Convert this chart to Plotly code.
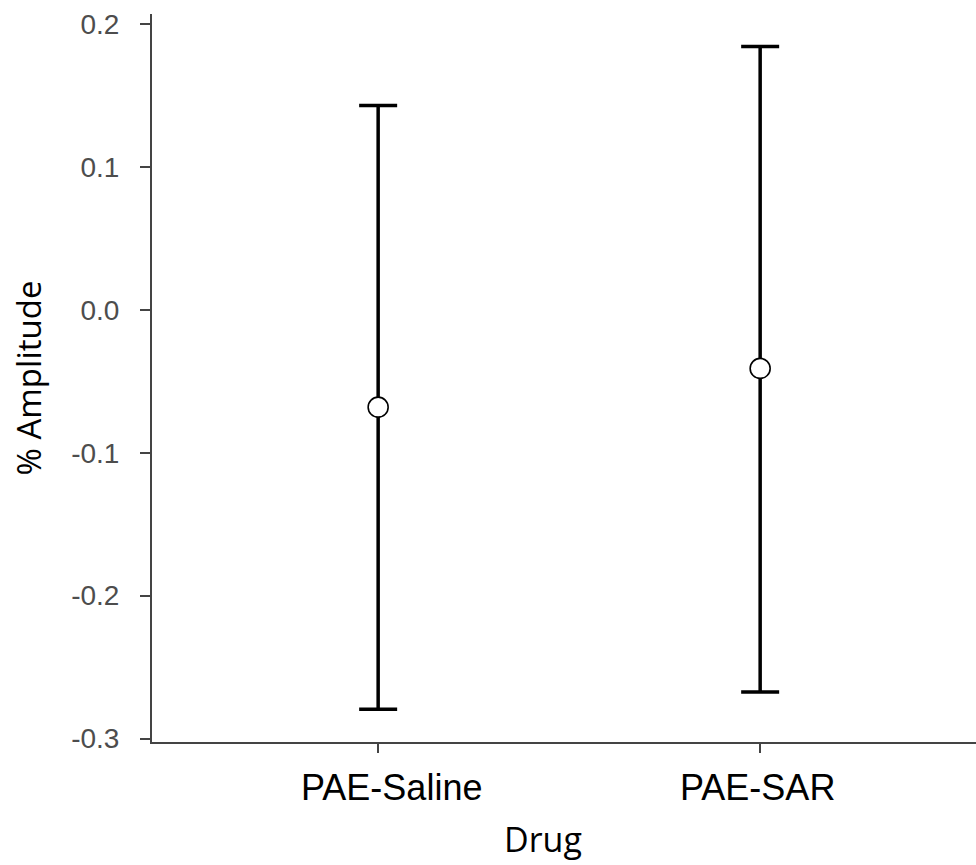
import plotly.graph_objects as go

drugs = ["PAE-Saline", "PAE-SAR"]
mean_amp = [-0.0681, -0.0410]
upper_amp = [0.1429, 0.1843]
lower_amp = [-0.2795, -0.2674]
y_ticks = [0.2, 0.1, 0.0, -0.1, -0.2, -0.3]
y_tick_labels = ["0.2", "0.1", "0.0", "-0.1", "-0.2", "-0.3"]
label_shift = [13, -3]

err_plus = [u - m for u, m in zip(upper_amp, mean_amp)]
err_minus = [m - l for m, l in zip(mean_amp, lower_amp)]

fig = go.Figure()
fig.add_trace(go.Scatter(
    x=drugs, y=mean_amp, mode="markers",
    marker=dict(size=20, color="white", line=dict(color="black", width=1.6)),
    error_y=dict(type="data", array=err_plus, arrayminus=err_minus,
                 symmetric=False, thickness=3.5, width=19, color="black"),
    showlegend=False, cliponaxis=False,
))

for d, s in zip(drugs, label_shift):
    fig.add_annotation(
        x=d, y=0, xref="x", yref="paper", text=d, showarrow=False,
        xanchor="center", yanchor="middle", xshift=s, yshift=-45,
        font=dict(family="Liberation Sans, Arial", size=36, color="black"),
    )

fig.add_annotation(
    x=0.475, y=0, xref="paper", yref="paper", text="Drug", showarrow=False,
    xanchor="center", yanchor="middle", yshift=-97,
    font=dict(family="Open Sans", size=34, color="black"),
)

fig.update_layout(
    width=976, height=865,
    margin=dict(l=152, r=0, t=14, b=123),
    paper_bgcolor="white", plot_bgcolor="white",
    xaxis=dict(
        range=[-0.592, 1.565], showline=True, linecolor="#444444", linewidth=2,
        ticks="outside", ticklen=9, tickwidth=2, tickcolor="#444444",
        showgrid=False, zeroline=False, showticklabels=False,
    ),
    yaxis=dict(
        range=[-0.3024, 0.207], showline=True, linecolor="#444444", linewidth=2,
        ticks="outside", ticklen=10, tickwidth=2, tickcolor="#444444",
        showgrid=False, zeroline=False,
        tickvals=y_ticks, ticktext=y_tick_labels,
        tickfont=dict(family="Liberation Sans, Arial", size=28, color="#4d4d4d"),
        ticklabelstandoff=15,
        title=dict(text="% Amplitude", font=dict(family="Open Sans", size=33, color="black"), standoff=20),
    ),
)

fig.write_html("out.html")
